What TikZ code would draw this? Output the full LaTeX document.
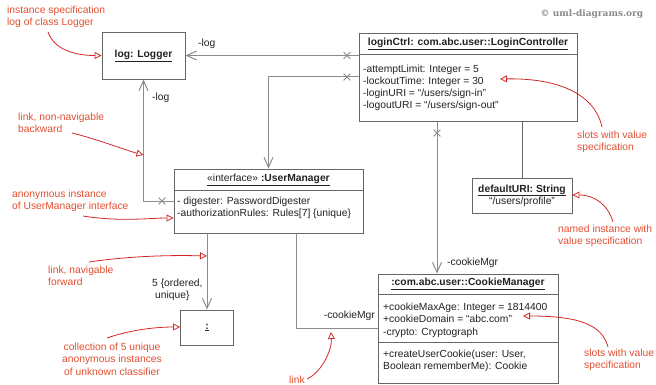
\documentclass[tikz,border=0pt]{standalone}
\usepackage{fontspec}
\setmainfont{Liberation Sans}
\newfontfamily\slabfont{DejaVu Serif}
\usetikzlibrary{arrows.meta,shapes.misc}
\definecolor{textdark}{HTML}{222222}
\definecolor{boxgray}{HTML}{666666}
\definecolor{linkgray}{HTML}{8C8C8C}
\definecolor{notered}{HTML}{E24E30}
\definecolor{arrowred}{HTML}{D42828}
\definecolor{markgray}{HTML}{8A8A8A}

\begin{document}
\begin{tikzpicture}[x=1pt, y=-1pt,
  every node/.style={font=\fontsize{10.3}{12.2}\selectfont, text=textdark},
  objbox/.style={draw=boxgray, line width=0.9pt, fill=white, inner sep=0pt, align=center},
  divider/.style={draw=boxgray, line width=0.9pt},
  title/.style={font=\fontsize{10.3}{12.2}\selectfont\bfseries, inner sep=0pt},
  slots/.style={align=left, anchor=north west, inner sep=0pt},
  link/.style={draw=linkgray, line width=1pt},
  nav/.style={link, -{Straight Barb[length=10pt,width=9pt]}},
  xmark/.style={draw=linkgray, cross out, line width=0.8pt, minimum size=6pt, inner sep=0pt},
  role/.style={inner sep=0pt},
  note/.style={text=notered, align=left, inner sep=0pt, anchor=north west},
  pointer/.style={draw=arrowred, line width=0.8pt, -{Triangle[open,length=7pt,width=7pt]}}
]
  \useasboundingbox (0,0) rectangle (656,385);

  \node[text=markgray, font=\slabfont\bfseries\fontsize{9}{11}\selectfont] (copy) at (592,14) {© uml-diagrams.org};

  \node[objbox, minimum width=83pt, minimum height=47pt] (logger) at (143.5,55.5) {\underline{\textbf{log: Logger}}};

  \node[objbox, minimum width=218pt, minimum height=88pt] (ctrl) at (468,77) {};
  \draw[divider] (ctrl.west |- 0,54) -- (ctrl.east |- 0,54);
  \node[title] (ctrltitle) at (468,44) {\underline{loginCtrl: com.abc.user::LoginController}};
  \node[slots] (ctrlslots) at (363,64.5) {-attemptLimit: Integer = 5\\-lockoutTime: Integer = 30\\-loginURI = “/users/sign-in”\\-logoutURI = “/users/sign-out”};

  \node[objbox, minimum width=189pt, minimum height=64pt] (mgr) at (268.5,201) {};
  \draw[divider] (mgr.west |- 0,190) -- (mgr.east |- 0,190);
  \node[inner sep=0pt] (mgrtitle) at (268.5,180) {\underline{«interface» \textbf{:UserManager}}};
  \node[slots] (mgrslots) at (177,197) {- digester: PasswordDigester\\-authorizationRules: Rules[7] \{unique\}};

  \node[objbox, minimum width=53pt, minimum height=35pt] (coll) at (207,327.5) {\underline{\textbf{:}}};

  \node[objbox, minimum width=100pt, minimum height=35pt] (uri) at (522,195.5) {\underline{\textbf{defaultURI: String}}\\“/users/profile”};

  \node[objbox, minimum width=180pt, minimum height=109pt] (cookie) at (468,328.5) {};
  \draw[divider] (cookie.west |- 0,294) -- (cookie.east |- 0,294);
  \draw[divider] (cookie.west |- 0,342) -- (cookie.east |- 0,342);
  \node[title] (cookietitle) at (468,284) {\underline{:com.abc.user::CookieManager}};
  \node[slots] (cookieslots) at (383,303) {+cookieMaxAge: Integer = 1814400\\+cookieDomain = “abc.com”\\-crypto: Cryptograph};
  \node[slots] (cookieops) at (383,350) {+createUserCookie(user: User,\\Boolean rememberMe): Cookie};

  \draw[nav] (ctrl.west |- logger) -- (logger);
  \node[xmark] (xlog) at (347,55.5) {};
  \node[role, anchor=base west] (loglabel) at (198,47) {-log};

  \draw[nav] (ctrl.west) -| (mgr.north);
  \node[xmark] (xmgr) at (347,77) {};

  \draw[nav] (mgr.west) -| (logger.south);
  \node[xmark] (xback) at (162,201) {};
  \node[role, anchor=base west] (loglabel2) at (152,101) {-log};

  \draw[nav] (mgr.south -| coll.north) -- (coll.north);
  \node[role, align=left, anchor=north west] (multlabel) at (152,279) {5 \{ordered,\\\hspace*{3pt}unique\}};

  \draw[link] (mgr.south -| 296,0) |- (cookie.west);
  \node[role, anchor=base east] (mgrlabel) at (375,318) {-cookieMgr};

  \draw[nav] (ctrl.south -| 437,0) -- (cookie.north -| 437,0);
  \node[xmark] (xcookie) at (437,133) {};
  \node[role, anchor=base west] (ctrllabel) at (447,265) {-cookieMgr};

  \draw[divider] (ctrl.south -| uri) -- (uri);

  \node[note] (n1) at (7,6) {instance specification\\log of class Logger};
  \coordinate (p1) at (48,32);
  \draw[pointer] (p1) .. controls (55,52) and (80,55.5) .. (logger.west);

  \node[note] (n2) at (18,113) {link, non-navigable\\backward};
  \coordinate (p2) at (72,133);
  \coordinate (t2) at (143.5,155);
  \draw[pointer] (p2) .. controls (100,140) and (125,150) .. (t2);

  \node[note] (n3) at (12,190) {anonymous instance\\of UserManager interface};
  \coordinate (p3) at (83,216);
  \draw[pointer] (p3) .. controls (120,222) and (150,218) .. (mgr.west |- 0,218);

  \node[note] (n4) at (48,266) {link, navigable\\forward};
  \coordinate (p4) at (89,262);
  \coordinate (t4) at (207,256);
  \draw[pointer] (p4) .. controls (130,256) and (170,255) .. (t4);

  \node[note, align=center, anchor=north] (n5) at (112,343) {collection of 5 unique\\anonymous instances\\of unknown classifier};
  \coordinate (p5) at (107,338);
  \draw[pointer] (p5) .. controls (130,330) and (155,327) .. (coll.west |- 0,327);

  \node[note] (n6) at (289,376) {link};
  \coordinate (p6) at (307,379);
  \coordinate (t6) at (331,332);
  \draw[pointer] (p6) .. controls (322,372) and (332,350) .. (t6);

  \node[note] (n7) at (577,131) {slots with value\\specification};
  \coordinate (p7) at (602,127);
  \coordinate (t7) at (500,79);
  \draw[pointer] (p7) .. controls (595,95) and (560,78) .. (t7);

  \node[note] (n8) at (558,225) {named instance with\\value specification};
  \coordinate (p8) at (613,222);
  \draw[pointer] (p8) .. controls (608,205) and (595,195) .. (uri.east |- 0,195);

  \node[note] (n9) at (584,349) {slots with value\\specification};
  \coordinate (p9) at (608,347);
  \coordinate (t9) at (523,316);
  \draw[pointer] (p9) .. controls (602,325) and (580,316) .. (t9);
\end{tikzpicture}
\end{document}
